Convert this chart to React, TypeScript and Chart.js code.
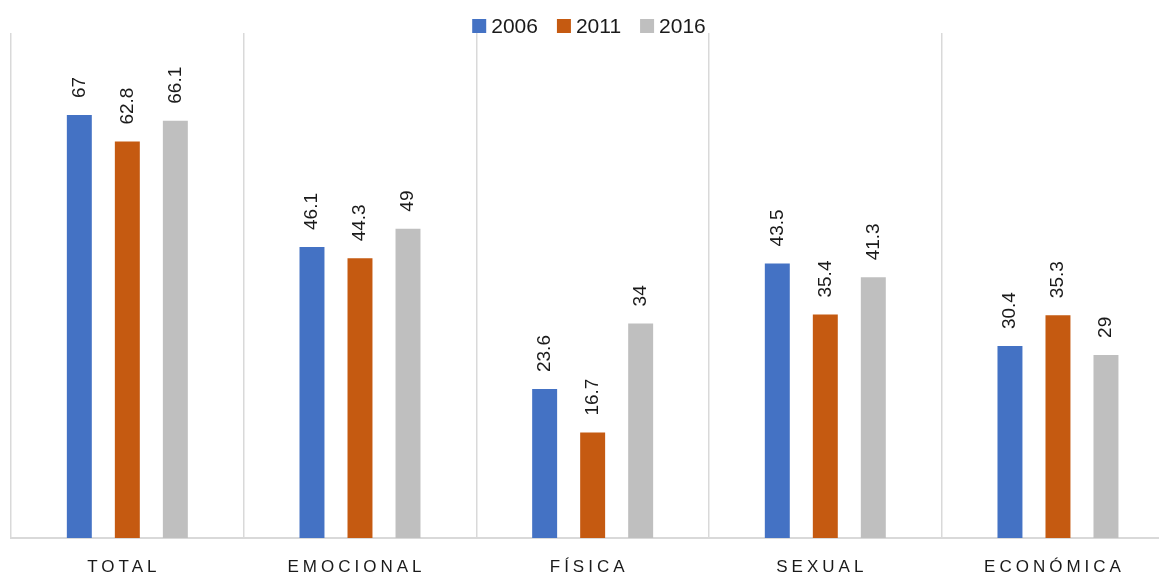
import React, { useEffect, useRef } from "react";
import { Chart, registerables } from "chart.js";

Chart.register(...registerables);

const categories = ["TOTAL", "EMOCIONAL", "FÍSICA", "SEXUAL", "ECONÓMICA"];
const seriesNames = ["2006", "2011", "2016"];
const values2006 = [67, 46.1, 23.6, 43.5, 30.4];
const values2011 = [62.8, 44.3, 16.7, 35.4, 35.3];
const values2016 = [66.1, 49, 34, 41.3, 29];
const seriesColors = ["#4472C4", "#C55A11", "#BFBFBF"];
const yMin = 0;
const yMax = 80;

const FONT = "'Liberation Sans', Arial, sans-serif";
const TEXT = "#1a1a1a";

const valueLabelPlugin = {
  id: "valueLabels",
  afterDatasetsDraw(chart: any) {
    const ctx = chart.ctx;
    ctx.save();
    ctx.font = `19px ${FONT}`;
    ctx.fillStyle = TEXT;
    ctx.textAlign = "left";
    ctx.textBaseline = "middle";
    chart.data.datasets.forEach((ds: any, di: number) => {
      const meta = chart.getDatasetMeta(di);
      meta.data.forEach((el: any, i: number) => {
        ctx.save();
        ctx.translate(el.x, el.y - 17);
        ctx.rotate(-Math.PI / 2);
        ctx.fillText(String(ds.data[i]), 0, 0);
        ctx.restore();
      });
    });
    ctx.restore();
  },
};

const customLegendPlugin = {
  id: "customLegend",
  afterDraw(chart: any) {
    const ctx = chart.ctx;
    ctx.save();
    ctx.font = `21px ${FONT}`;
    ctx.textBaseline = "middle";
    ctx.textAlign = "left";
    const box = 14;
    const gap = 5;
    const itemGap = 19;
    const widths = seriesNames.map((n) => box + gap + ctx.measureText(n).width);
    const total = widths.reduce((a, b) => a + b, 0) + itemGap * (seriesNames.length - 1);
    let x = 589 - total / 2;
    const cy = 26;
    seriesNames.forEach((n, i) => {
      ctx.fillStyle = seriesColors[i];
      ctx.fillRect(x, cy - box / 2, box, box);
      ctx.fillStyle = TEXT;
      ctx.fillText(n, x + box + gap, cy + 1);
      x += widths[i] + itemGap;
    });
    ctx.restore();
  },
};

const xLabelPlugin = {
  id: "xLabels",
  afterDraw(chart: any) {
    const ctx = chart.ctx;
    const xs = chart.scales.x;
    ctx.save();
    ctx.font = `17px ${FONT}`;
    (ctx as any).letterSpacing = "4px";
    ctx.fillStyle = TEXT;
    ctx.textAlign = "center";
    ctx.textBaseline = "middle";
    categories.forEach((c, i) => {
      const x = xs.getPixelForTick(i);
      ctx.fillText(c, x - 3.5, chart.chartArea.bottom + 29);
    });
    ctx.restore();
  },
};

export default function App() {
  const ref = useRef<HTMLCanvasElement | null>(null);
  useEffect(() => {
    if (!ref.current) return;
    const datasets = [values2006, values2011, values2016].map((d, i) => ({
      label: seriesNames[i],
      data: d,
      backgroundColor: seriesColors[i],
      borderWidth: 0,
      categoryPercentage: 0.619,
      barPercentage: 0.52,
    }));
    const chart = new Chart(ref.current, {
      type: "bar",
      data: { labels: categories, datasets },
      options: {
        animation: false,
        responsive: false,
        maintainAspectRatio: false,
        layout: { padding: { top: 33, left: 11, right: 5.7, bottom: 37 } },
        plugins: {
          legend: { display: false },
          tooltip: { enabled: false },
        },
        scales: {
          x: {
            grid: { offset: true, color: "#D9D9D9", lineWidth: 1.5, drawTicks: false },
            border: { color: "#D9D9D9", width: 2 },
            ticks: { display: false },
          },
          y: { display: false, min: yMin, max: yMax },
        },
      },
      plugins: [valueLabelPlugin, customLegendPlugin, xLabelPlugin],
    });
    return () => chart.destroy();
  }, []);
  return (
    <canvas
      ref={ref}
      width={1180}
      height={575}
      style={{ position: "fixed", left: 0, top: 0, width: 1180, height: 575, display: "block" }}
    />
  );
}
